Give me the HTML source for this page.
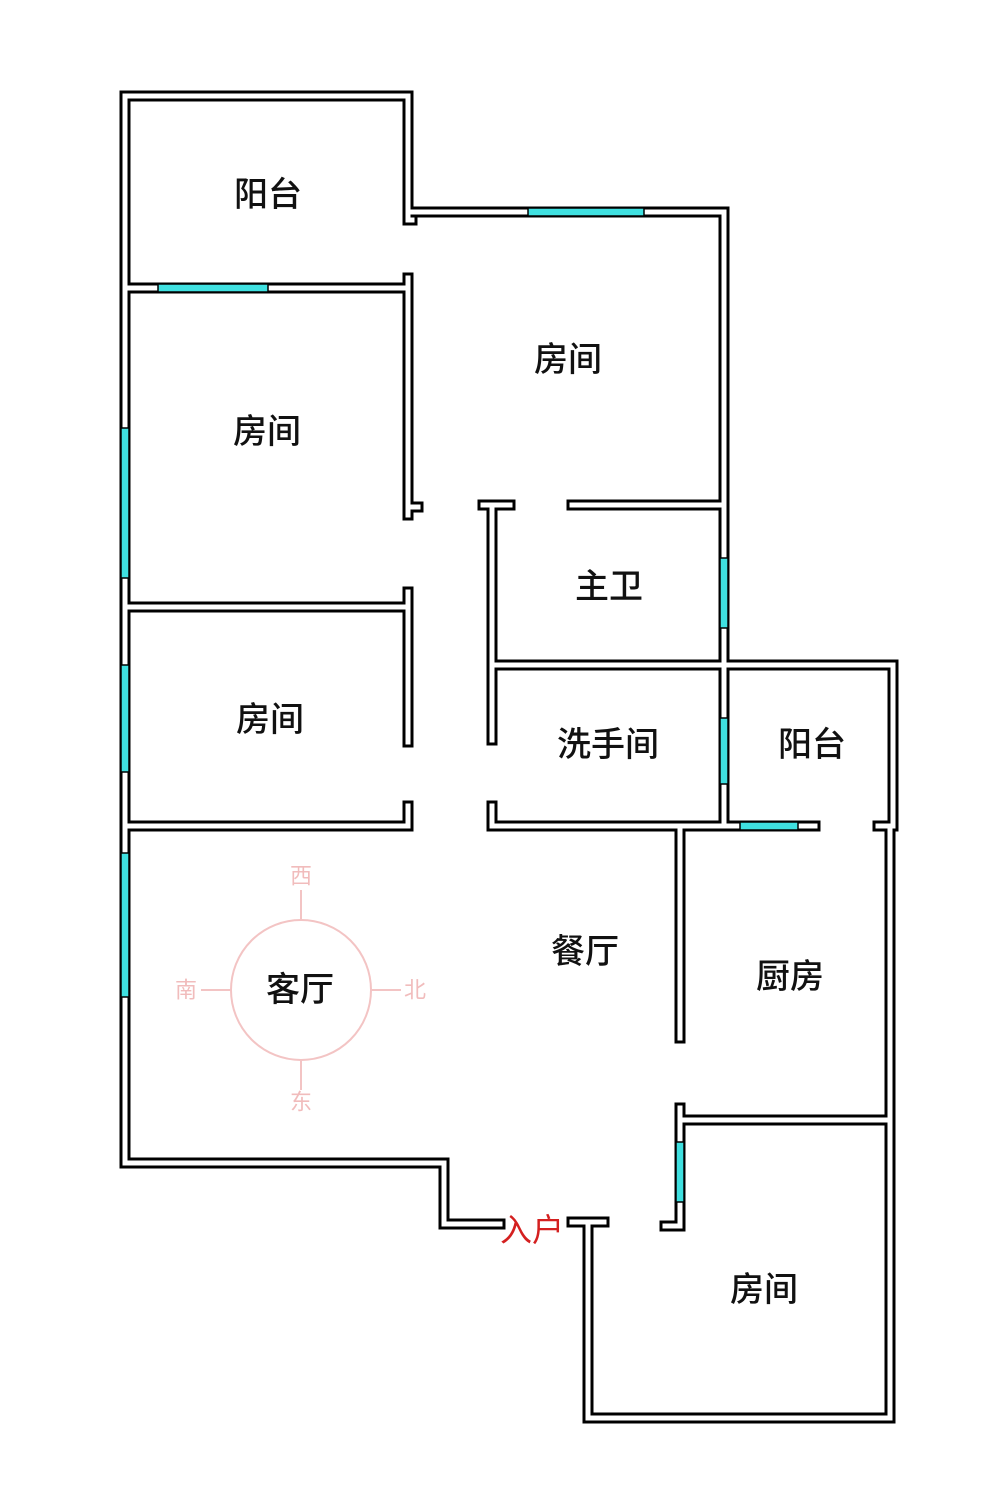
<!DOCTYPE html>
<html><head><meta charset="utf-8"><style>
html,body{margin:0;padding:0;background:#fff;}
svg{display:block;}
text{font-family:"Liberation Sans","Noto Sans CJK SC",sans-serif;text-anchor:middle;dominant-baseline:central;}
</style></head><body>
<svg width="1000" height="1497" viewBox="0 0 1000 1497" xmlns="http://www.w3.org/2000/svg">
<defs>
<path id="w" d="
M125 96 V1163 H444 V1224 H500
M125 96 H408 V212 H724 V505
M408 212 V220 H412
M125 288 H408 M408 278 V515 M408 507 H418
M125 607 H408 M408 592 V742
M125 826 H408 M408 806 V826
M572 505 H724
M483 505 H510 M492 505 V740
M492 665 H724
M724 505 V826
M492 806 V826 H815
M680 826 V1038
M724 665 H893 V826 M878 826 H893 M890 826 V1418 H588 V1222 M572 1222 H604
M680 1120 H890 M680 1108 V1226 H665
"/>
</defs>
<use href="#w" fill="none" stroke="#000" stroke-width="11" stroke-linecap="square"/>
<use href="#w" fill="none" stroke="#fff" stroke-width="5" stroke-linecap="square"/>
<g fill="#3fe0e0" stroke="#000" stroke-width="1.5">
<rect x="528" y="208" width="116" height="8"/>
<rect x="158" y="284" width="110" height="8"/>
<rect x="121" y="428" width="8" height="150"/>
<rect x="121" y="665" width="8" height="107"/>
<rect x="121" y="853" width="8" height="144"/>
<rect x="720" y="558" width="8" height="70"/>
<rect x="720" y="718" width="8" height="66"/>
<rect x="740" y="822" width="58" height="8"/>
<rect x="676" y="1142" width="8" height="60"/>
</g>
<g stroke="#f3c4c4" stroke-width="2" fill="none">
<circle cx="301" cy="990" r="70"/>
<line x1="301" y1="890" x2="301" y2="920"/>
<line x1="301" y1="1060" x2="301" y2="1090"/>
<line x1="201" y1="990" x2="231" y2="990"/>
<line x1="371" y1="990" x2="401" y2="990"/>
</g>
<g fill="#f1bcbc" font-size="22">
<text x="301" y="876">西</text><text x="301" y="1102">东</text>
<text x="186" y="990">南</text><text x="415" y="990">北</text>
</g>
<g fill="#111" font-size="34" font-weight="500">
<text x="268" y="195">阳台</text>
<text x="568" y="360">房间</text>
<text x="267" y="432">房间</text>
<text x="609" y="587">主卫</text>
<text x="270" y="720">房间</text>
<text x="608" y="745">洗手间</text>
<text x="812" y="745">阳台</text>
<text x="585" y="952">餐厅</text>
<text x="790" y="977">厨房</text>
<text x="300" y="990">客厅</text>
<text x="764" y="1290">房间</text>
</g>
<text x="532" y="1230" fill="#d42020" font-size="32">入户</text>
</svg>
</body></html>
